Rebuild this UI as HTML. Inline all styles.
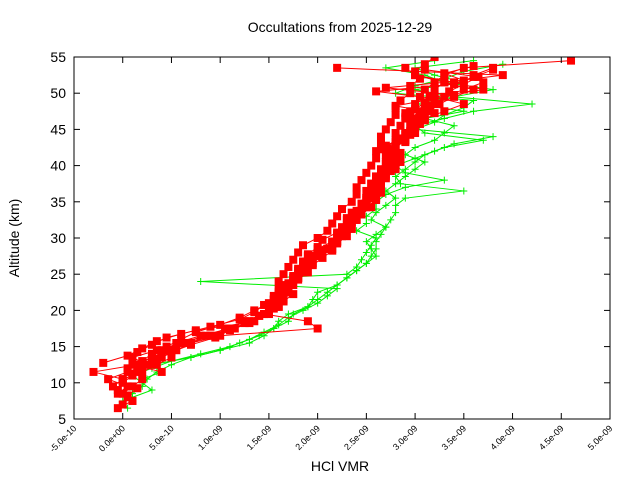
<!DOCTYPE html>
<html><head><meta charset="utf-8"><style>
body{margin:0;background:#fff;}
svg{display:block;font-family:"Liberation Sans",sans-serif;}
</style></head><body>
<svg id="chart" width="640" height="480" viewBox="0 0 640 480"></svg>
<script>
const xTicks=[-0.5,0,0.5,1,1.5,2,2.5,3,3.5,4,4.5,5];
const xTickLabels=["-5.0e-10","0.0e+00","5.0e-10","1.0e-09","1.5e-09","2.0e-09","2.5e-09","3.0e-09","3.5e-09","4.0e-09","4.5e-09","5.0e-09"];
const yTicks=[5,10,15,20,25,30,35,40,45,50,55];
const redStarts=[7,6.5,7.5,9.5,10.5,11.5,8.25,12.75,14.25];
const red1=[0.0,0.05,-0.05,0.0,0.1,0.05,0.2,0.3,0.45,0.6,0.75,1.0,1.2,1.35,1.5,1.55,1.6,1.6,1.65,1.7,1.75,1.8,1.85,2.0,2.1,2.15,2.2,2.25,2.35,2.4,2.4,2.45,2.5,2.55,2.6,2.6,2.65,2.65,2.7,2.75,2.8,2.8,2.85,2.95,2.95,3.05,3.0,3.1,3.2];
const red2=[-0.05,0.1,0.0,0.1,0.2,0.15,0.3,0.4,0.55,0.7,0.9,1.15,1.3,1.45,1.6,1.65,1.7,1.7,1.75,1.8,1.85,1.9,2.0,2.15,2.2,2.25,2.3,2.35,2.45,2.5,2.5,2.55,2.6,2.65,2.7,2.75,2.7,2.8,2.8,2.85,2.9,2.95,3.0,3.05,3.1,3.2,3.3,3.5,4.6];
const red3=[0.1,-0.05,0.05,-0.15,0.05,0.25,0.1,0.35,0.6,0.85,1.1,1.25,1.45,1.55,1.55,1.65,1.7,1.75,1.8,1.85,1.95,2.1,2.2,2.25,2.3,2.4,2.45,2.5,2.5,2.55,2.6,2.6,2.7,2.75,2.7,2.8,2.85,2.9,3.0,2.95,3.05,3.1,3.15,3.2,3.3,3.0,2.9];
const red4=[-0.1,0.0,-0.3,0.15,0.3,0.5,0.65,0.9,1.05,1.3,1.5,1.6,1.55,1.6,1.7,1.8,1.85,1.9,1.95,2.1,2.15,2.2,2.3,2.35,2.4,2.45,2.5,2.55,2.55,2.6,2.7,2.75,2.8,2.7,2.85,2.9,2.95,3.0,3.1,3.2,3.3,3.5,3.7,3.6,3.8];
const red5=[0.0,0.2,0.35,0.5,0.4,0.7,1.0,2.0,1.9,1.45,1.6,1.65,1.7,1.75,1.8,1.85,1.9,2.0,2.15,2.2,2.25,2.3,2.35,2.4,2.5,2.55,2.6,2.65,2.65,2.7,2.75,2.75,2.8,2.9,2.95,3.0,3.05,3.15,3.25,3.4,3.6,3.3,3.9,2.2];
const red6=[0.4,0.1,0.3,0.45,0.55,0.8,1.1,1.35,1.5,1.55,1.6,1.7,1.65,1.8,1.85,1.95,2.0,2.1,2.2,2.25,2.35,2.4,2.45,2.5,2.6,2.55,2.65,2.7,2.8,2.85,2.75,2.8,2.9,3.0,3.0,3.1,3.3,3.5,3.2,3.7,3.4,3.0];
const red7=[0.05,0.15,0.0,0.1,0.2,0.35,0.5,0.7,0.95,1.1,1.3,1.4,1.55,1.65,1.6,1.7,1.8,1.9,1.95,2.05,2.15,2.2,2.3,2.35,2.35,2.45,2.5,2.6,2.65,2.6,2.7,2.75,2.7,2.8,2.75,2.8,2.9,3.0,3.05,2.9,3.15,3.2,2.6,3.4,3.6,3.8];
const red8=[-0.2,0.05,0.2,0.35,0.6,0.9,1.2,1.35,1.45,1.6,1.7,1.7,1.75,1.8,1.85,1.9,2.0,2.05,2.2,2.3,2.3,2.4,2.45,2.55,2.6,2.6,2.7,2.75,2.8,2.85,2.7,2.85,2.95,3.05,2.9,3.0,3.1,3.4,2.7,3.5,3.3,3.6];
const red9=[0.15,0.3,0.45,0.75,1.25,1.4,1.5,1.65,1.75,1.7,1.75,1.85,1.9,1.95,2.05,2.15,2.25,2.3,2.35,2.45,2.55,2.5,2.6,2.65,2.6,2.75,2.8,2.85,2.65,2.9,2.95,3.0,3.1,3.2,2.8,3.2,3.35,3.5,3.65,3.1];
const greenStarts=[6.5,8,10.5];
const green1=[0.05,0.0,0.1,0.2,0.25,0.35,0.5,0.7,1.0,1.3,1.45,1.55,1.7,1.75,1.9,2.0,2.1,2.2,2.3,2.4,2.5,2.55,2.6,2.6,2.65,2.7,2.75,2.8,2.8,2.9,3.5,2.85,2.8,2.9,3.0,3.1,3.3,3.7,3.1,3.0,3.3,3.6,4.2,3.4,3.0,3.5,3.2,3.0,3.6];
const green2=[0.1,0.3,0.2,0.1,0.3,0.5,0.8,1.1,1.3,1.45,1.6,1.7,1.85,2.0,2.1,2.2,0.8,2.3,2.4,2.45,2.5,2.55,2.6,2.4,2.5,2.5,2.6,2.6,2.7,2.9,3.3,2.9,2.8,3.0,3.2,3.4,3.8,3.0,3.2,3.3,3.5,3.6,2.8,3.0,3.3,3.5,3.9];
const green3=[0.2,0.4,0.3,0.7,1.0,1.2,1.4,1.55,1.6,1.7,1.9,1.95,2.0,2.2,2.3,2.4,2.5,2.6,2.55,2.5,2.6,2.7,2.55,2.6,2.7,2.8,2.7,2.8,2.9,3.0,3.1,2.9,3.0,3.2,3.3,3.4,3.1,3.5,3.0,3.4,3.8,3.3,3.1,2.7,3.2];

const L=74,R=610,T=57,B=419;
const xs=v=>L+(v-(-0.5))/(5.5)*(R-L);
const ys=v=>B-(v-5)/50*(B-T);
const NS="http://www.w3.org/2000/svg";
const svg=document.getElementById('chart');
function mk(tag,attrs,parent){const e=document.createElementNS(NS,tag);for(const k in attrs)e.setAttribute(k,attrs[k]);(parent||svg).appendChild(e);return e;}

const t=mk('text',{x:340,y:32,'text-anchor':'middle','font-size':14});
t.textContent='Occultations from 2025-12-29';



const clip=mk('clipPath',{id:'pc'});mk('rect',{x:L,y:T,width:R-L,height:B-T},clip);
const gData=mk('g',{'clip-path':'url(#pc)'});



function series(vals,start,color,kind,name){
  const g=mk('g',{},gData);
  
  
  const pts=vals.map((v,i)=>[xs(v),ys(start+i)]);
  mk('polyline',{points:pts.map(p=>p.join(',')).join(' '),fill:'none',stroke:color,'stroke-width':1},g);
  pts.forEach(p=>{
    if(kind==='sq'){const r=mk('rect',{x:p[0]-4,y:p[1]-4,width:8,height:8,fill:color},g);
      }
    else{const pl=mk('path',{d:`M${p[0]-3.5},${p[1]}h7M${p[0]},${p[1]-3.5}v7`,stroke:color,'stroke-width':1},g);
      }
  });
}
[green1,green2,green3].forEach((a,i)=>series(a,greenStarts[i],'#00ee00','plus','green-profile-'+(i+1)));
[red1,red2,red3,red4,red5,red6,red7,red8,red9].forEach((a,i)=>series(a,redStarts[i],'#ff0000','sq','red-profile-'+(i+1)));

const frame=mk('rect',{x:L,y:T,width:R-L,height:B-T,fill:'none',stroke:'#000','stroke-width':1});



xTicks.forEach((v,i)=>{
  const x=xs(v);
  mk('line',{x1:x,y1:B,x2:x,y2:B-6,stroke:'#000'});
  mk('line',{x1:x,y1:T,x2:x,y2:T+6,stroke:'#000'});
  const lb=mk('text',{x:x+3,y:B+10,'text-anchor':'end','font-size':9,transform:`rotate(-45 ${x+3} ${B+10})`});
  lb.textContent=xTickLabels[i];
  
  
});
yTicks.forEach(v=>{
  const y=ys(v);
  mk('line',{x1:L,y1:y,x2:L+6,y2:y,stroke:'#000'});
  mk('line',{x1:R,y1:y,x2:R-6,y2:y,stroke:'#000'});
  const lb=mk('text',{x:L-8,y:y+5,'text-anchor':'end','font-size':14});
  lb.textContent=v;
  
  
});
const xt=mk('text',{x:340,y:471,'text-anchor':'middle','font-size':14});
xt.textContent='HCl VMR';


const yt=mk('text',{x:19,y:238,'text-anchor':'middle','font-size':14,transform:'rotate(-90 19 238)'});
yt.textContent='Altitude (km)';


</script>
</body></html>
